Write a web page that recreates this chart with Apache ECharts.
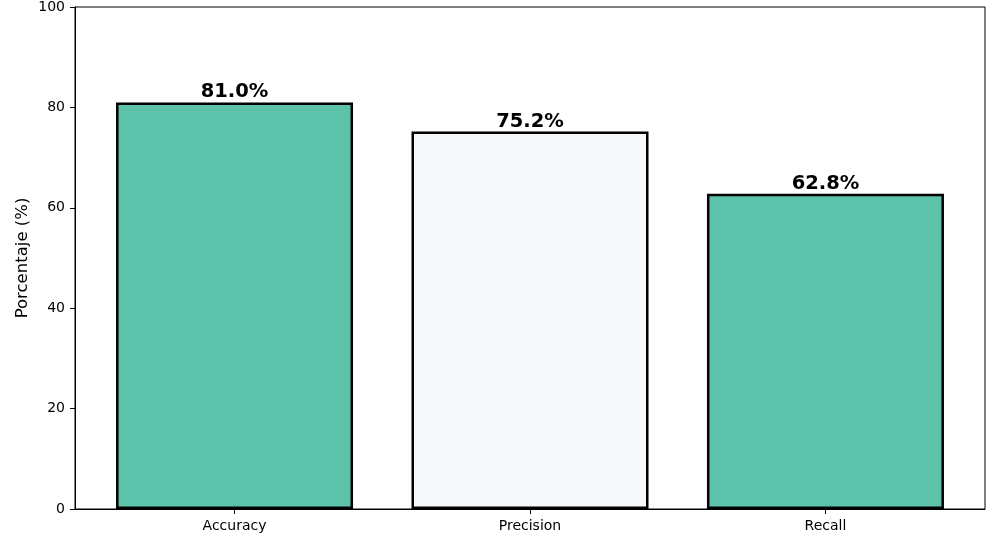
<!DOCTYPE html>
<html>
<head>
<meta charset="utf-8">
<script src="https://cdn.jsdelivr.net/npm/echarts@6/dist/echarts.min.js"></script>
<style>
html, body { margin: 0; padding: 0; background: #fff; }
#chart { width: 993px; height: 537px; }
</style>
</head>
<body>
<div id="chart"></div>
<script>
const categories = ['Accuracy', 'Precision', 'Recall']
const values = [81.0, 75.2, 62.8]
const barColors = ['#5cc2aa', '#f7f8fa', '#5cc2aa']
const yTicks = [0, 20, 40, 60, 80, 100]

const chart = echarts.init(document.getElementById('chart'))
const font = 'DejaVu Sans'

const option = {
    animation: false,
    grid: {
        left: 75,
        right: 8,
        top: 7,
        bottom: 28,
        containLabel: false
    },
    xAxis: {
        type: 'value',
        min: -0.54,
        max: 2.54,
        splitLine: { show: false },
        axisLine: { show: true, onZero: false, lineStyle: { color: '#000', width: 1 } },
        axisTick: {
            show: true,
            length: 5,
            lineStyle: { color: '#000' },
            customValues: [0, 1, 2]
        },
        axisLabel: {
            color: '#000',
            fontFamily: font,
            fontSize: 14,
            margin: 10,
            customValues: [0, 1, 2],
            formatter: v => categories[Math.round(v)]
        }
    },
    yAxis: {
        type: 'value',
        min: 0,
        max: 100,
        interval: 20,
        name: 'Porcentaje (%)',
        nameLocation: 'middle',
        nameGap: 44,
        nameMoveOverlap: false,
        nameTextStyle: { color: '#000', fontFamily: font, fontSize: 16.5 },
        splitLine: { show: false },
        axisLine: { show: true, onZero: false, lineStyle: { color: '#000', width: 1 } },
        axisTick: { show: true, length: 5, lineStyle: { color: '#000' } },
        axisLabel: { color: '#000', fontFamily: font, fontSize: 14, margin: 10, customValues: yTicks }
    },
    series: [{
        type: 'bar',
        barWidth: 237,
        data: values.map((v, i) => ({
            value: [i, v],
            itemStyle: { color: barColors[i] }
        })),
        itemStyle: { borderColor: '#000', borderWidth: 2.5 },
        label: {
            show: true,
            position: 'top',
            distance: 0,
            color: '#000',
            fontFamily: font,
            fontWeight: 'bold',
            fontSize: 19.5,
            formatter: p => p.value[1].toFixed(1) + '%'
        }
    }],
    graphic: [{
        type: 'rect',
        shape: { x: 75, y: 7, width: 910, height: 502 },
        style: { fill: 'none', stroke: '#000', lineWidth: 1 },
        silent: true,
        z: 10
    }]
}
chart.setOption(option)
</script>
</body>
</html>
